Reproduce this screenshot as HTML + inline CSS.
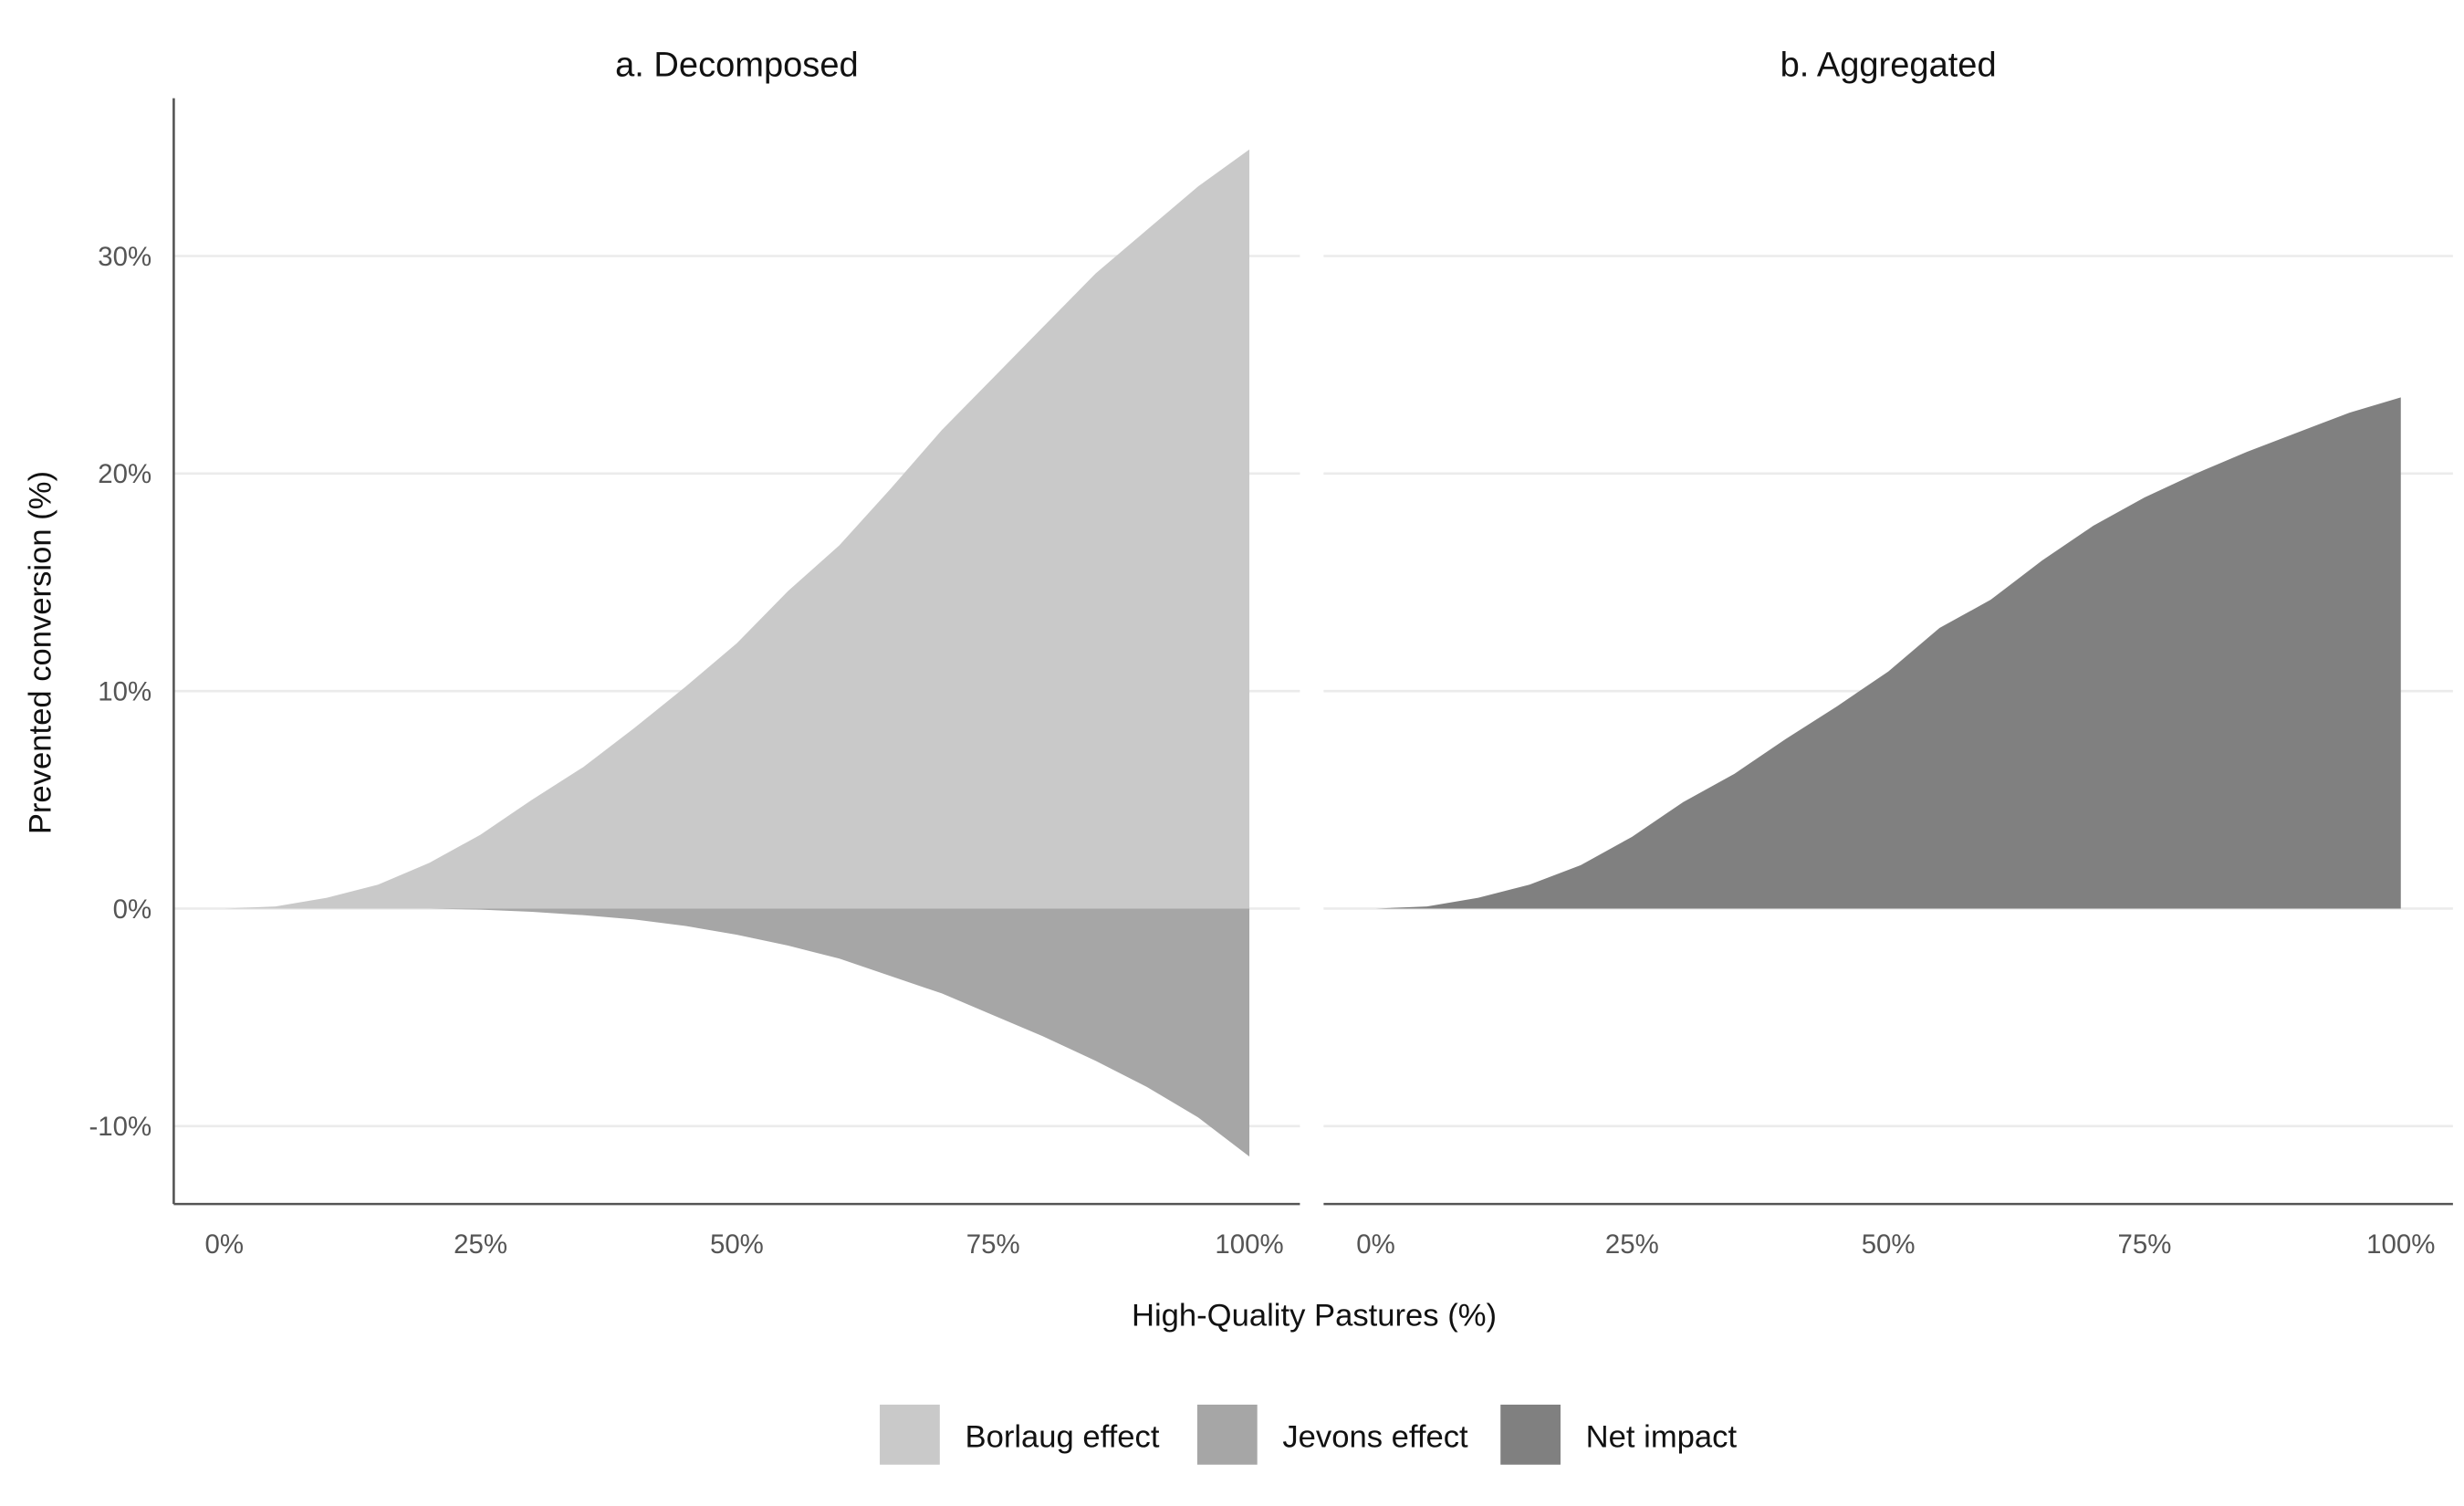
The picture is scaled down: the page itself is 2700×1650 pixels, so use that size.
<!DOCTYPE html>
<html><head><meta charset="utf-8"><style>
html,body{margin:0;padding:0;background:#fff;}
svg{display:block;font-family:"Liberation Sans",sans-serif;}
</style></head><body>
<svg id="chart" width="2700" height="1650" viewBox="0 0 1560 953" xmlns="http://www.w3.org/2000/svg">
<rect width="1560" height="953" fill="#fff"/>
<g id="g"></g>
</svg>
<script>
const xs=[0,5,10,15,20,25,30,35,40,45,50,55,60,65,70,75,80,85,90,95,100];
const borlaug=[0,0.1,0.5,1.1,2.1,3.4,5.0,6.5,8.3,10.2,12.2,14.6,16.7,19.3,22.0,24.4,26.8,29.2,31.2,33.2,34.9];
const jevons=[0,0,0,0,0,-0.05,-0.15,-0.3,-0.5,-0.8,-1.2,-1.7,-2.3,-3.1,-3.9,-4.9,-5.9,-7.0,-8.2,-9.6,-11.4];
const net=[0,0.1,0.5,1.1,2.0,3.3,4.9,6.2,7.8,9.3,10.9,12.9,14.2,16.0,17.6,18.9,20.0,21.0,21.9,22.8,23.5];
const yTicks=[-10,0,10,20,30];
const xTicks=[0,25,50,75,100];
const NS="http://www.w3.org/2000/svg";
const g=document.getElementById('g');
function el(t,a,txt){const e=document.createElementNS(NS,t);for(const k in a)e.setAttribute(k,a[k]);if(txt!==undefined)e.textContent=txt;g.appendChild(e);return e;}
const y=v=>575-v*13.77;
const panels=[{x0:142,l:110,r:823,title:"a. Decomposed"},{x0:871,l:838,r:1553,title:"b. Aggregated"}];
panels.forEach((p,pi)=>{
  const x=v=>p.x0+v*6.49;
  yTicks.forEach(t=>{const e=el('line',{x1:p.l,x2:p.r,y1:y(t),y2:y(t),stroke:'#ebebeb','stroke-width':1.5});
    });
  const area=(vals,fill,name)=>{let d='M'+x(xs[0])+','+y(0);xs.forEach((v,i)=>d+=' L'+x(v)+','+y(vals[i]));d+=' L'+x(xs[xs.length-1])+','+y(0)+' Z';
    const e=el('path',{d:d,fill:fill});};
  if(pi==0){area(borlaug,'#c9c9c9','borlaug-area');area(jevons,'#a6a6a6','jevons-area');}
  else area(net,'#808080','net-area');
  let e=el('line',{x1:p.l,x2:p.r,y1:762,y2:762,stroke:'#555','stroke-width':1.5});
  
  xTicks.forEach(t=>{const e=el('text',{x:x(t),y:793,'text-anchor':'middle','font-size':17,fill:'#555'},t+'%');
    });
  e=el('text',{x:(p.l+p.r)/2,y:48,'text-anchor':'middle','font-size':22,fill:'#111'},p.title);
  
});
let e=el('line',{x1:110,x2:110,y1:62,y2:762,stroke:'#555','stroke-width':1.5});

yTicks.forEach(t=>{const e=el('text',{x:96,y:y(t)+6,'text-anchor':'end','font-size':17,fill:'#555'},t+'%');
  });
e=el('text',{x:832,y:839,'text-anchor':'middle','font-size':20,fill:'#111'},'High-Quality Pastures (%)');

e=el('text',{x:32,y:413,'text-anchor':'middle','font-size':20,fill:'#111',transform:'rotate(-90 32 413)'},'Prevented conversion (%)');

const leg=[['Borlaug effect','#c9c9c9',557],['Jevons effect','#a6a6a6',758],['Net impact','#808080',950]];
leg.forEach(l=>{let e=el('rect',{x:l[2],y:889,width:38,height:38,fill:l[1]});
  
  e=el('text',{x:l[2]+54,y:916,'font-size':20,fill:'#111'},l[0]);
  });
</script>
</body></html>
